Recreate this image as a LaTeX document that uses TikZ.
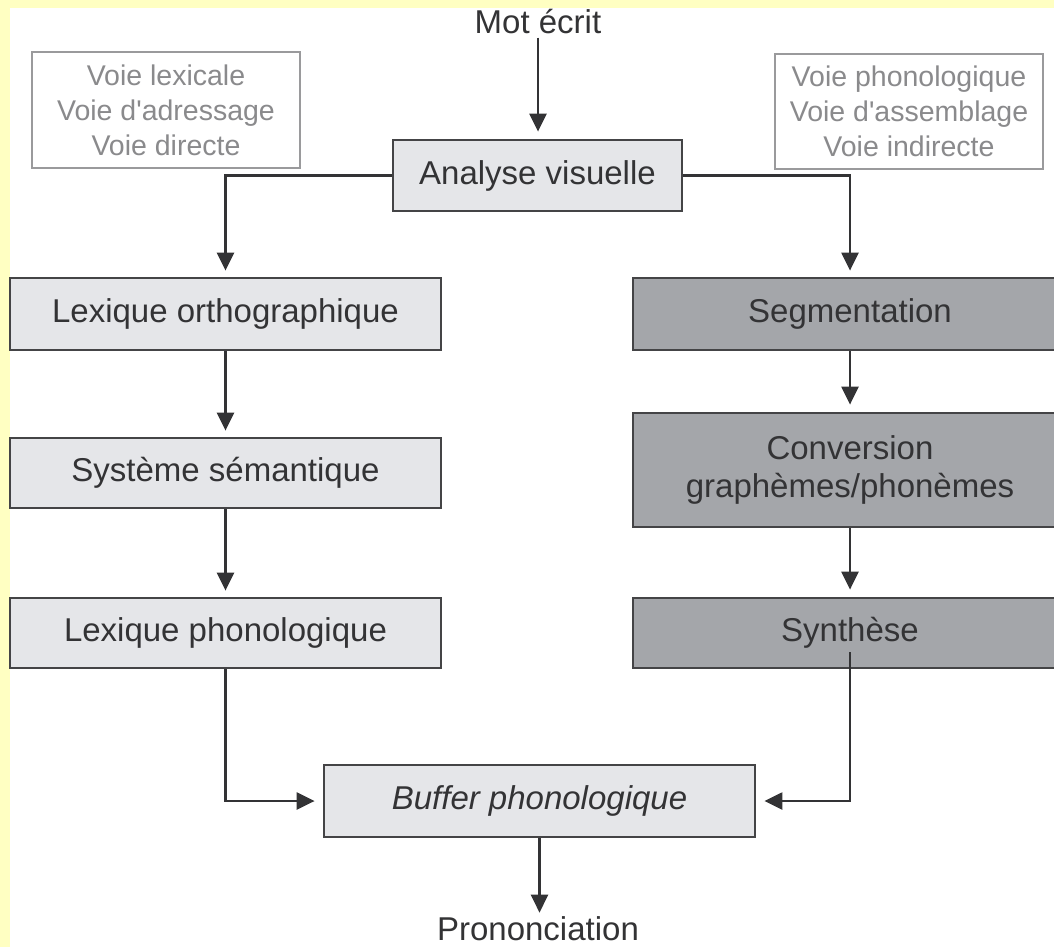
\documentclass[tikz,border=0pt]{standalone}
\usepackage{fontspec}
\setmainfont{Liberation Sans}
\usetikzlibrary{arrows.meta}
\definecolor{bgyellow}{HTML}{FFFFC2}
\definecolor{lightfill}{HTML}{E5E6E9}
\definecolor{darkfill}{HTML}{A4A6AA}
\definecolor{edgecol}{HTML}{444446}
\definecolor{linecol}{HTML}{333335}
\definecolor{txtcol}{HTML}{333335}
\definecolor{graycol}{HTML}{9A9A9C}
\definecolor{graytxt}{HTML}{8A8A8C}
\tikzset{
  boxbase/.style={draw=edgecol, line width=2.8pt, inner sep=0pt, align=center,
    text=txtcol, font=\fontsize{33}{38}\selectfont},
  lightbox/.style={boxbase, fill=lightfill},
  darkbox/.style={boxbase, fill=darkfill},
  labelbox/.style={draw=graycol, line width=2pt, fill=white, inner sep=0pt, align=center,
    text=graytxt, font=\fontsize{28.5}{35}\selectfont},
  plain/.style={inner sep=0pt, text=txtcol, font=\fontsize{33}{38}\selectfont},
  conn/.style={draw=linecol, line width=2.4pt, -{Triangle[length=18pt,width=17pt]}},
}
\begin{document}
\begin{tikzpicture}[x=1pt,y=-1pt]
\useasboundingbox (0,0) rectangle (1054,947);
\fill[bgyellow] (0,0) rectangle (1054,947);
\fill[white] (10,8) rectangle (1054,947);

\node[plain] (mot) at (538,22) {Mot écrit};
\node[lightbox, minimum width=289pt, minimum height=71pt] (av) at (537.5,175.5) {Analyse visuelle};
\node[labelbox, minimum width=268pt, minimum height=116pt] (vl) at (166,110) {Voie lexicale\\Voie d\textquotesingle adressage\\Voie directe};
\node[labelbox, minimum width=268pt, minimum height=115pt] (vp) at (909,111.5) {Voie phonologique\\Voie d\textquotesingle assemblage\\Voie indirecte};

\node[lightbox, minimum width=431pt, minimum height=72pt] (lo) at (225.5,314) {Lexique orthographique};
\node[lightbox, minimum width=431pt, minimum height=70pt] (ss) at (225.5,473) {Système sémantique};
\node[lightbox, minimum width=431pt, minimum height=70pt] (lp) at (225.5,633) {Lexique phonologique};

\node[darkbox, minimum width=434pt, minimum height=72pt] (seg) at (850,314) {Segmentation};
\node[darkbox, minimum width=434pt, minimum height=114pt] (conv) at (850,470) {Conversion\\graphèmes/phonèmes};
\node[darkbox, minimum width=434pt, minimum height=70pt] (syn) at (850,633) {Synthèse};

\node[lightbox, minimum width=431pt, minimum height=72pt, font=\fontsize{33}{38}\selectfont\itshape] (buf) at (539.5,801) {Buffer phonologique};
\node[plain] (pron) at (538,929) {Prononciation};

\coordinate (synin) at (850,652);

\draw[conn, shorten <=3pt, shorten >=7pt] (mot.south) -- (mot.south |- av.north);
\draw[conn, shorten >=6pt] (av.west) -| (lo.north);
\draw[conn, shorten >=6pt] (av.east) -| (seg.north);
\draw[conn, shorten >=6pt] (lo.south) -- (ss.north);
\draw[conn, shorten >=6pt] (ss.south) -- (lp.north);
\draw[conn, shorten >=7pt] (seg.south) -- (conv.north);
\draw[conn, shorten >=7pt] (conv.south) -- (syn.north);
\draw[conn, shorten >=8pt] (lp.south) |- (buf.west);
\draw[conn, shorten >=8pt] (synin) |- (buf.east);
\draw[conn, shorten >=4pt] (buf.south) -- (buf.south |- pron.north);
\end{tikzpicture}
\end{document}
